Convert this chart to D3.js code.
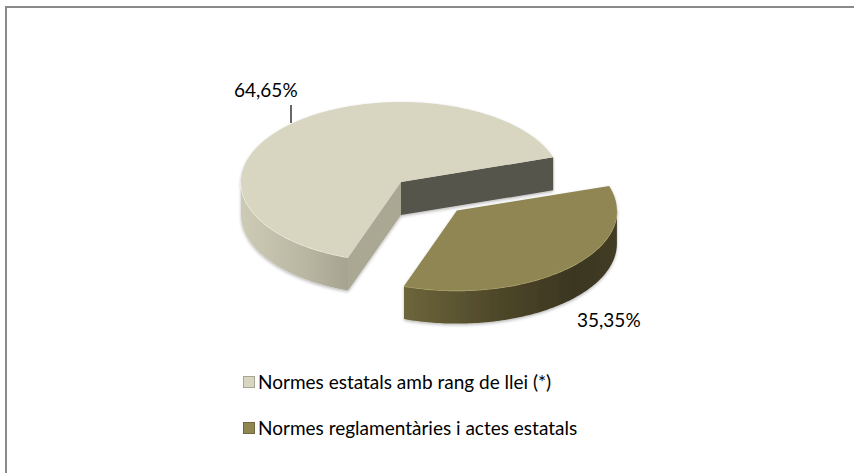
<!DOCTYPE html>
<html>
<head>
<meta charset="utf-8">
<script src="https://cdn.jsdelivr.net/npm/d3@7"></script>
<style>
  html, body { margin: 0; padding: 0; background: #fff; }
  svg { display: block; font-family: Lato, "Noto Sans", sans-serif; }
</style>
</head>
<body>
<svg id="chart" width="854" height="473"></svg>
<script>
// ---- data ----
const categories = ["Normes estatals amb rang de llei (*)", "Normes reglamentàries i actes estatals"];
const values = [64.65, 35.35];
const valueLabels = ["64,65%", "35,35%"];
const explodeFrac = [0, 0.5];

// ---- styles ----
const topColors = ["#d8d6c0", "#8f8652"];
const sideStops = [
  [["0%", "#cdcbb5"], ["60%", "#b9b7a1"], ["100%", "#a6a390"]],
  [["0%", "#6d653b"], ["45%", "#4d4729"], ["80%", "#3b3620"], ["100%", "#413c24"]]
];
const startFaceColors = ["#aaa793", "#5a5335"];
const endFaceColors = ["#57544c", "#3a351f"];
const rimColors = ["#f3f1df", "#b5ad76"];

const svg = d3.select("#chart");
const W = 854, H = 473;

// frame
svg.append("rect").attr("x", 6).attr("y", 7).attr("width", 900).attr("height", 520)
  .attr("fill", "#fff").attr("stroke", "#8a8a8a").attr("stroke-width", 2);

const defs = svg.append("defs");
const flt = defs.append("filter").attr("id", "shadow").attr("x", "-10%").attr("y", "-10%").attr("width", "120%").attr("height", "130%");
flt.append("feDropShadow").attr("dx", 0).attr("dy", 1.5).attr("stdDeviation", 1.5)
  .attr("flood-color", "#000").attr("flood-opacity", 0.28);

sideStops.forEach((stops, i) => {
  const g = defs.append("linearGradient").attr("id", "side" + i)
    .attr("x1", "0%").attr("x2", "100%").attr("y1", "0%").attr("y2", "0%");
  stops.forEach(s => g.append("stop").attr("offset", s[0]).attr("stop-color", s[1]));
});

// ---- pie geometry ----
const cx = 401, cy = 182, rx = 160, ry = 80, depth = 33;
const deg = Math.PI / 180;
const start = 199.3 * deg;
const pie = d3.pie().sort(null).startAngle(start).endAngle(start + 2 * Math.PI);
const arcs = pie(values);

function P(a, r, z, off) {
  const s = a - Math.PI / 2;
  return [cx + off[0] + rx * r * Math.cos(s), cy + off[1] + ry * r * Math.sin(s) + z];
}
function arcPts(a0, a1, z, off) {
  const n = Math.max(2, Math.ceil(Math.abs(a1 - a0) / (1 * deg)));
  return d3.range(n + 1).map(k => P(a0 + (a1 - a0) * k / n, 1, z, off));
}
const line = d3.line();

const chartG = svg.append("g");

arcs.forEach((d, i) => {
  const mid = (d.startAngle + d.endAngle) / 2;
  const ms = mid - Math.PI / 2;
  const off = [explodeFrac[i] * rx * Math.cos(ms), explodeFrac[i] * ry * Math.sin(ms)];
  const g = chartG.append("g").attr("filter", "url(#shadow)");
  const a0 = d.startAngle, a1 = d.endAngle;
  const c0 = P(0, 0, 0, off), c1 = P(0, 0, depth, off);

  // cut faces
  const s0 = a0 - Math.PI / 2, s1 = a1 - Math.PI / 2;
  if (Math.cos(s1) > 0) {
    g.append("path").attr("d", line([c0, P(a1, 1, 0, off), P(a1, 1, depth, off), c1]) + "Z")
      .attr("fill", endFaceColors[i]);
  }
  if (Math.cos(s0) < 0) {
    g.append("path").attr("d", line([c0, P(a0, 1, 0, off), P(a0, 1, depth, off), c1]) + "Z")
      .attr("fill", startFaceColors[i]);
  }
  // outer visible side
  for (let k = -1; k <= 2; k++) {
    const v0 = Math.max(a0, Math.PI / 2 + 2 * Math.PI * k);
    const v1 = Math.min(a1, 3 * Math.PI / 2 + 2 * Math.PI * k);
    if (v1 > v0) {
      const topPts = arcPts(v0, v1, 0, off);
      const botPts = arcPts(v1, v0, depth, off);
      g.append("path").attr("d", line(topPts.concat(botPts)) + "Z")
        .attr("fill", `url(#side${i})`);
      g.append("path").attr("d", line(topPts)).attr("fill", "none")
        .attr("stroke", rimColors[i]).attr("stroke-width", 1.2);
    }
  }
  // top face
  g.append("path").attr("d", line([c0].concat(arcPts(a0, a1, 0, off))) + "Z")
    .attr("fill", topColors[i]);
});

// ---- data labels ----
const lab = svg.append("g").attr("font-size", 19).attr("fill", "#000");
lab.append("text").attr("x", 234).attr("y", 97).text(valueLabels[0]);
lab.append("line").attr("x1", 291).attr("x2", 291).attr("y1", 105).attr("y2", 123)
  .attr("stroke", "#000").attr("stroke-width", 1.2);
lab.append("text").attr("x", 577).attr("y", 327).text(valueLabels[1]);

// ---- legend ----
const leg = svg.append("g").attr("font-size", 19);
categories.forEach((c, i) => {
  const y = 382 + i * 46;
  leg.append("rect").attr("x", 243.5).attr("y", y - 5.5).attr("width", 11).attr("height", 11)
    .attr("fill", topColors[i]).attr("stroke", d3.color(topColors[i]).darker(0.7)).attr("stroke-width", 1);
  leg.append("text").attr("x", 258).attr("y", y).attr("dy", "0.35em").text(c);
});
</script>
</body>
</html>
